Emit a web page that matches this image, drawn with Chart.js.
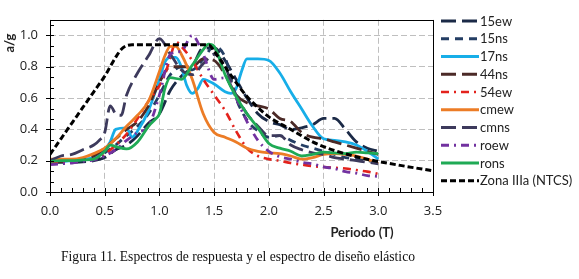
<!DOCTYPE html>
<html><head><meta charset="utf-8">
<script src="https://cdn.jsdelivr.net/npm/chart.js@4/dist/chart.umd.min.js"></script>
<style>html,body{margin:0;padding:0;background:#fff;} #wrap{width:579px;height:279px;position:relative;}</style>
</head><body><div id="wrap"><canvas id="c" width="579" height="279"></canvas></div>
<script>
// Periods (T) and spectral values (a/g)
const xTicks = [0, 0.5, 1.0, 1.5, 2.0, 2.5, 3.0, 3.5];
const yTicks = [0, 0.2, 0.4, 0.6, 0.8, 1.0];

const t15ew = [0,0.2,0.4,0.5,0.6,0.7,0.8,0.9,1.0,1.1,1.2,1.3,1.4,1.5,1.6,1.7,1.8,1.9,2.0,2.1,2.2,2.3,2.4,2.5,2.6,2.7,2.8,2.9,3.0];
const v15ew = [0.19,0.19,0.2,0.22,0.27,0.3,0.36,0.44,0.5,0.65,0.74,0.8,0.92,0.92,0.84,0.72,0.6,0.5,0.45,0.43,0.4,0.41,0.43,0.47,0.47,0.4,0.32,0.28,0.26];

const t15ns = [0,0.2,0.4,0.5,0.6,0.7,0.8,0.9,1.0,1.1,1.2,1.3,1.4,1.5,1.6,1.7,1.8,1.9,2.0,2.1,2.2,2.3,2.4,2.5,2.6,2.7,2.8,2.9,3.0];
const v15ns = [0.2,0.2,0.21,0.25,0.3,0.36,0.42,0.5,0.62,0.75,0.8,0.78,0.85,0.93,0.86,0.6,0.46,0.39,0.35,0.36,0.33,0.3,0.28,0.26,0.24,0.22,0.21,0.2,0.19];

const t17ns = [0,0.1,0.2,0.3,0.4,0.5,0.55,0.6,0.7,0.75,0.8,0.9,1.0,1.05,1.1,1.15,1.2,1.25,1.3,1.35,1.4,1.5,1.6,1.65,1.7,1.75,1.8,1.9,2.0,2.1,2.2,2.3,2.4,2.5,2.6,2.7,2.8,2.9,3.0];
const v17ns = [0.19,0.195,0.2,0.21,0.22,0.27,0.32,0.4,0.41,0.35,0.39,0.52,0.72,0.83,0.86,0.86,0.8,0.68,0.63,0.66,0.72,0.69,0.64,0.63,0.66,0.77,0.85,0.85,0.84,0.76,0.64,0.53,0.42,0.34,0.33,0.32,0.3,0.26,0.21];

const t44ns = [0,0.2,0.4,0.5,0.6,0.7,0.8,0.9,1.0,1.1,1.2,1.3,1.4,1.5,1.6,1.7,1.8,1.9,2.0,2.1,2.2,2.3,2.4,2.5,2.6,2.7,2.8,2.9,3.0];
const v44ns = [0.19,0.2,0.23,0.28,0.34,0.4,0.45,0.55,0.7,0.8,0.8,0.8,0.85,0.84,0.75,0.62,0.57,0.55,0.53,0.47,0.45,0.38,0.35,0.34,0.32,0.3,0.28,0.26,0.24];

const t54ew = [0,0.1,0.2,0.3,0.4,0.5,0.6,0.7,0.8,0.9,1.0,1.05,1.1,1.15,1.2,1.3,1.4,1.5,1.6,1.7,1.8,1.9,2.0,2.1,2.2,2.3,2.4,2.5,2.6,2.7,2.8,2.9,3.0];
const v54ew = [0.19,0.19,0.19,0.2,0.21,0.24,0.3,0.37,0.47,0.58,0.68,0.75,0.86,0.96,0.93,0.84,0.72,0.62,0.52,0.39,0.28,0.23,0.21,0.2,0.185,0.175,0.165,0.16,0.155,0.15,0.14,0.13,0.115];

const tcmew = [0,0.1,0.2,0.3,0.4,0.5,0.6,0.7,0.8,0.9,1.0,1.05,1.1,1.15,1.2,1.3,1.4,1.5,1.6,1.7,1.8,1.9,2.0,2.1,2.2,2.3,2.4,2.5,2.6,2.7,2.8,2.9,3.0];
const vcmew = [0.21,0.21,0.21,0.22,0.245,0.28,0.34,0.42,0.49,0.58,0.77,0.87,0.93,0.93,0.88,0.72,0.5,0.38,0.35,0.32,0.28,0.26,0.25,0.245,0.23,0.21,0.22,0.24,0.245,0.24,0.23,0.21,0.18];

const tcmns = [0,0.1,0.2,0.3,0.4,0.45,0.5,0.55,0.6,0.65,0.7,0.8,0.9,1.0,1.1,1.2,1.3,1.4,1.5,1.6,1.7,1.8,1.9,2.0,2.1,2.2,2.3,2.4,2.5,2.6,2.7,2.8,2.9,3.0];
const vcmns = [0.2,0.23,0.24,0.27,0.3,0.33,0.38,0.55,0.5,0.49,0.62,0.76,0.87,0.98,0.88,0.78,0.75,0.82,0.88,0.8,0.62,0.5,0.42,0.36,0.36,0.3,0.27,0.25,0.24,0.22,0.21,0.2,0.19,0.18];

const troew = [0,0.1,0.2,0.3,0.4,0.5,0.6,0.7,0.8,0.9,1.0,1.1,1.2,1.3,1.4,1.5,1.6,1.7,1.8,1.9,2.0,2.1,2.2,2.3,2.4,2.5,2.6,2.7,2.8,2.9,3.0];
const vroew = [0.175,0.18,0.185,0.195,0.205,0.23,0.27,0.33,0.38,0.42,0.62,0.88,0.9,1.0,0.88,0.72,0.73,0.6,0.45,0.33,0.26,0.225,0.21,0.19,0.18,0.16,0.15,0.13,0.12,0.105,0.1];

const trons = [0,0.1,0.2,0.3,0.4,0.5,0.55,0.6,0.7,0.8,0.9,0.97,1.0,1.05,1.1,1.2,1.3,1.4,1.45,1.5,1.6,1.7,1.8,1.9,2.0,2.1,2.2,2.3,2.4,2.5,2.6,2.7,2.8,2.9,3.0];
const vrons = [0.195,0.2,0.2,0.205,0.21,0.26,0.3,0.29,0.275,0.32,0.42,0.47,0.5,0.66,0.73,0.72,0.81,0.91,0.945,0.93,0.75,0.61,0.5,0.41,0.31,0.28,0.26,0.23,0.24,0.255,0.25,0.245,0.255,0.25,0.245];

const tzona = [0,0.1,0.2,0.3,0.4,0.5,0.55,0.6,0.65,0.7,0.75,1.0,1.25,1.45,1.5,1.6,1.7,1.8,1.9,2.0,2.2,2.4,2.5,2.6,2.8,3.0,3.2,3.5];
const vzona = [0.24,0.34,0.44,0.54,0.64,0.74,0.8,0.86,0.91,0.935,0.94,0.94,0.94,0.94,0.9,0.8,0.7,0.61,0.54,0.48,0.4,0.32,0.29,0.265,0.225,0.195,0.17,0.135];

const seriesNames = ['15ew','15ns','17ns','44ns','54ew','cmew','cmns','roew','rons','Zona IIIa (NTCS)'];

function pts(t, v) { return t.map((x, i) => ({ x: x, y: v[i] })); }

const styles = [
  { c: '#1B2A47', d: [15, 6], w: 2.8 },
  { c: '#243E64', d: [8, 6], w: 2.8 },
  { c: '#17AEE8', d: [], w: 2.8 },
  { c: '#4B2A27', d: [15, 6], w: 2.8 },
  { c: '#E3221C', d: [8, 5, 2, 5], w: 2.6 },
  { c: '#EC7C26', d: [], w: 2.8 },
  { c: '#3D3A5C', d: [15, 6], w: 2.8 },
  { c: '#7232A0', d: [8, 5, 2, 5], w: 2.8 },
  { c: '#1FAA55', d: [], w: 2.8 },
  { c: '#000000', d: [6, 3], w: 3.0 }
];
const dataPairs = [
  pts(t15ew, v15ew), pts(t15ns, v15ns), pts(t17ns, v17ns), pts(t44ns, v44ns), pts(t54ew, v54ew),
  pts(tcmew, vcmew), pts(tcmns, vcmns), pts(troew, vroew), pts(trons, vrons), pts(tzona, vzona)
];

const datasets = seriesNames.map((name, i) => ({
  label: name,
  data: dataPairs[i],
  borderColor: styles[i].c,
  backgroundColor: styles[i].c,
  borderDash: styles[i].d,
  borderWidth: styles[i].w,
  pointRadius: 0,
  fill: false,
  cubicInterpolationMode: 'monotone',
  order: seriesNames.length - 1 - i
}));

const decor = {
  id: 'decor',
  afterDatasetsDraw(chart) {
    const ctx = chart.ctx;
    const a = chart.chartArea;
    const xs = chart.scales.x, ys = chart.scales.y;
    ctx.save();
    ctx.strokeStyle = '#000';
    ctx.lineWidth = 1;
    ctx.setLineDash([]);
    ctx.strokeRect(Math.round(a.left) + 0.5, Math.round(a.top) + 0.5, Math.round(a.right - a.left), Math.round(a.bottom - a.top));
    ctx.beginPath();
    for (let k = 0; k <= 35; k++) {
      const px = Math.round(xs.getPixelForValue(k / 10)) + 0.5;
      const major = k % 5 === 0;
      ctx.moveTo(px, a.bottom - 4);
      ctx.lineTo(px, a.bottom + (major ? 4 : 0));
    }
    for (let k = 0; k <= 16; k++) {
      const v = k * 0.2 / 3;
      const py = Math.round(ys.getPixelForValue(v)) + 0.5;
      const major = k % 3 === 0;
      ctx.moveTo(a.left - (major ? 4 : 0), py);
      ctx.lineTo(a.left + 4, py);
    }
    ctx.stroke();
    ctx.restore();
  },
  afterDraw(chart) {
    const ctx = chart.ctx;
    ctx.save();
    const ds = chart.data.datasets;
    ctx.textBaseline = 'middle';
    ctx.textAlign = 'left';
    ctx.font = '13px Lato';
    ds.forEach((d, i) => {
      const y = 21 + i * 17.75;
      ctx.beginPath();
      ctx.strokeStyle = d.borderColor;
      ctx.lineWidth = d.borderWidth;
      ctx.setLineDash(d.borderDash);
      ctx.moveTo(441, y);
      ctx.lineTo(479, y);
      ctx.stroke();
      ctx.setLineDash([]);
      ctx.fillStyle = '#222';
      ctx.fillText(d.label, 480, y + 0.5);
    });
    ctx.fillStyle = '#222';
    ctx.font = 'bold 13px Lato';
    ctx.textAlign = 'center';
    ctx.fillText('Periodo (T)', 362, 233);
    ctx.save();
    ctx.translate(10, 43);
    ctx.rotate(-Math.PI / 2);
    ctx.fillText('a/g', 0, 0);
    ctx.restore();
    ctx.fillStyle = '#111';
    ctx.font = '13.6px "Liberation Serif"';
    ctx.fillText('Figura 11. Espectros de respuesta y el espectro de diseño elástico', 238, 257);
    ctx.restore();
  }
};

new Chart(document.getElementById('c'), {
  type: 'line',
  data: { datasets: datasets },
  options: {
    responsive: false,
    animation: false,
    layout: { padding: { left: 0, right: 146, top: 12, bottom: 0 } },
    plugins: { legend: { display: false }, tooltip: { enabled: false } },
    scales: {
      x: {
        type: 'linear', min: 0, max: 3.5,
        afterFit(s) { s.height = 87; },
        afterBuildTicks(s) { s.ticks = xTicks.map(v => ({ value: v })); },
        ticks: { padding: 11, color: '#222', font: { family: 'Open Sans', size: 13 }, callback: v => Number(v).toFixed(1), maxRotation: 0 },
        grid: { color: '#BFBFBF', lineWidth: 1, drawTicks: false },
        border: { display: false, dash: [6, 3] }
      },
      y: {
        type: 'linear', min: 0, max: 1.1,
        afterFit(s) { s.width = 50; },
        afterBuildTicks(s) { s.ticks = yTicks.map(v => ({ value: v })); },
        ticks: { padding: 12, color: '#222', font: { family: 'Open Sans', size: 13 }, callback: v => Number(v).toFixed(1) },
        grid: { color: '#BFBFBF', lineWidth: 1, drawTicks: false },
        border: { display: false, dash: [6, 3] }
      }
    }
  },
  plugins: [decor]
});
</script></body></html>
